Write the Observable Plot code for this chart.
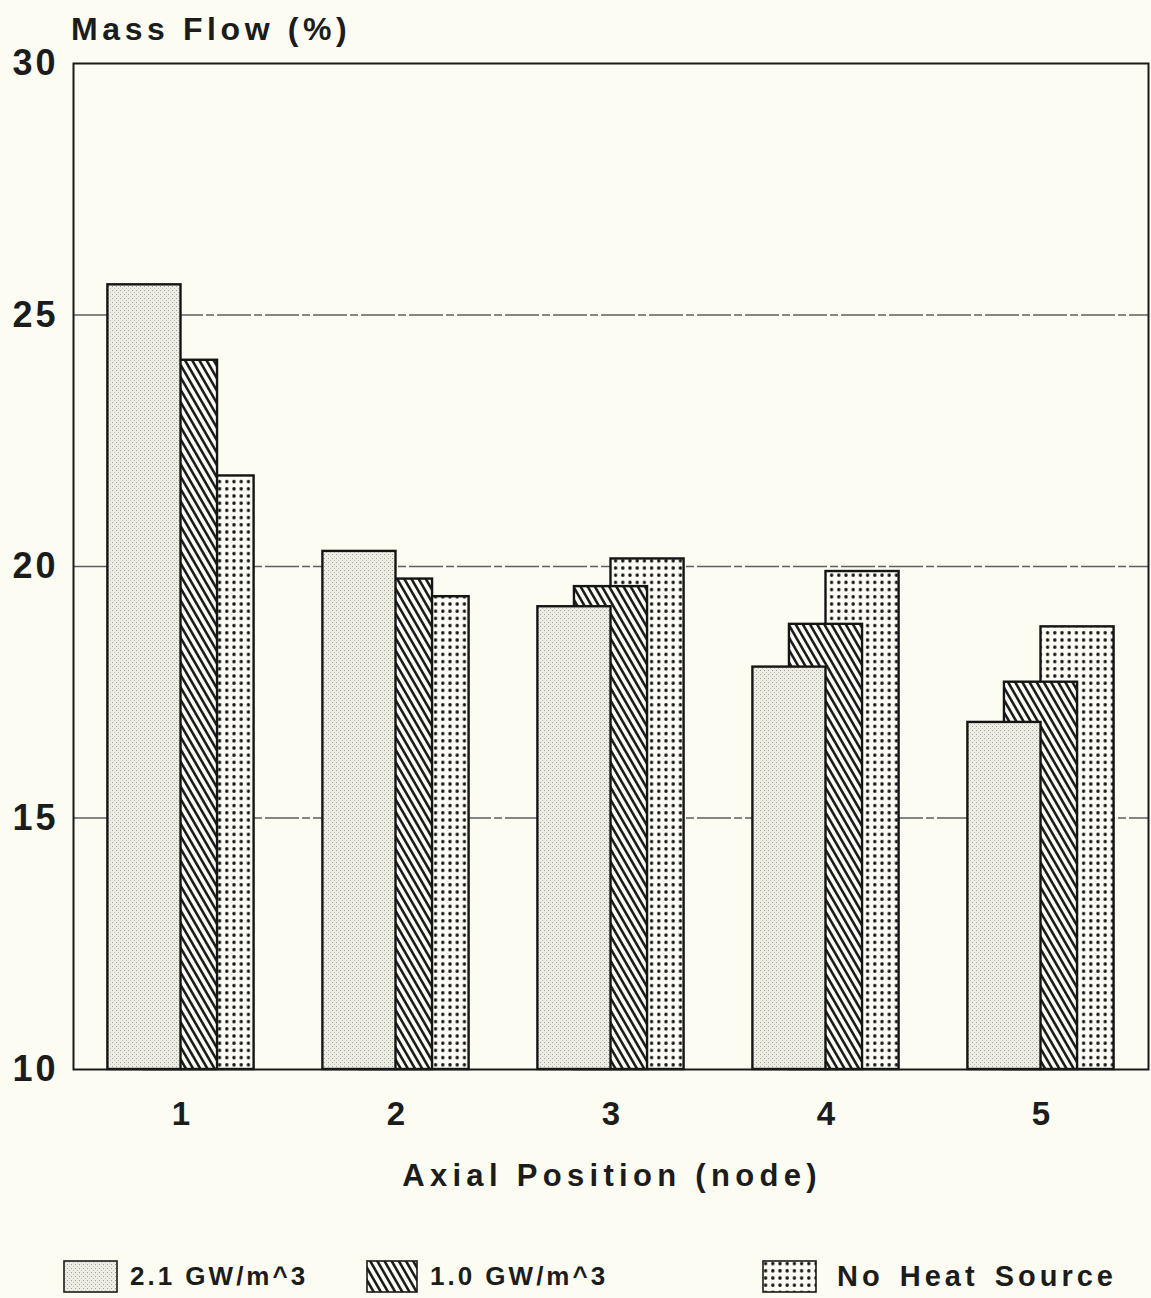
<!DOCTYPE html>
<html>
<head>
<meta charset="utf-8">
<script src="https://cdn.jsdelivr.net/npm/d3@7"></script>
<script src="https://cdn.jsdelivr.net/npm/@observablehq/plot@0.6"></script>
<style>
  html, body { margin: 0; padding: 0; background: #fcfcf3; }
  body { width: 1151px; height: 1298px; overflow: hidden; font-family: "Liberation Sans", Arial, Helvetica, sans-serif; color: #1c1c1c; }
  #title { height: 46px; position: relative; }
  #title span { position: absolute; left: 71px; top: 11px; font-size: 32px; font-weight: bold; letter-spacing: 4.6px; white-space: nowrap; }
  #chart svg { display: block; overflow: visible; }
  #xlabel { height: 70px; position: relative; }
  #xlabel span { position: absolute; left: 0; right: 0; padding-left: 76px; padding-right: 3px; text-align: center; top: 18px; font-size: 31px; letter-spacing: 5.3px; font-weight: bold; white-space: nowrap; }
  #legend { position: relative; height: 88px; }
  .item { position: absolute; top: 50px; display: flex; align-items: center; white-space: nowrap; }
  .item svg { display: block; margin-right: 12px; }
  .item span { font-size: 26px; font-weight: bold; letter-spacing: 3px; }
  .item.wide svg { margin-right: 20px; }
  .item.wide span { font-size: 29px; letter-spacing: 4px; word-spacing: 4px; }
</style>
</head>
<body>
<div id="title"><span>Mass Flow (%)</span></div>
<div id="chart"></div>
<div id="xlabel"><span>Axial Position (node)</span></div>
<div id="legend"></div>
<script>
// ---- data ----
const nodes = [1, 2, 3, 4, 5];
const seriesNames = ["2.1 GW/m^3", "1.0 GW/m^3", "No Heat Source"];
const gw21 = [25.6, 20.3, 19.2, 18.0, 16.9];
const gw10 = [24.1, 19.75, 19.6, 18.85, 17.7];
const noHeat = [21.8, 19.4, 20.15, 19.9, 18.8];
const yTicks = [10, 15, 20, 25, 30];
const gridValues = [15, 20, 25];

const seriesValues = [gw21, gw10, noHeat];
const patternIds = ["pStipple", "pHatch", "pDots"];
const half = 0.17; // half bar width in node units; bars overlap by half

function rowsFor(k) {
  return nodes.map((n, i) => ({
    node: n,
    series: seriesNames[k],
    value: seriesValues[k][i],
    x1: n + (k - 1) * half - half,
    x2: n + (k - 1) * half + half,
    base: 10
  }));
}

const barMarks = [2, 1, 0].map(k =>
  Plot.rect(rowsFor(k), {
    x1: "x1", x2: "x2", y1: "base", y2: "value",
    fill: `url(#${patternIds[k]})`,
    stroke: "#141414", strokeWidth: 2.4
  })
);

const chart = Plot.plot({
  width: 1151,
  height: 1094,
  marginTop: 17,
  marginLeft: 73,
  marginRight: 3,
  marginBottom: 71,
  style: { background: "transparent", fontFamily: "'Liberation Sans', Arial, sans-serif", color: "#1c1c1c", overflow: "visible" },
  x: { domain: [0.5, 5.5] },
  y: { domain: [10, 30] },
  marks: [
    Plot.ruleY(gridValues, { stroke: "#5e5e5e", strokeWidth: 1.3, strokeDasharray: "34,3,8,3" }),
    ...barMarks,
    Plot.frame({ stroke: "#1a1a1a", strokeWidth: 2 }),
    Plot.axisY(yTicks, { tickSize: 0, tickPadding: 15, fontSize: 36, fontWeight: "bold", tickFormat: d => String(d), label: null }),
    Plot.axisX(nodes, { tickSize: 0, tickPadding: 32, fontSize: 33, fontWeight: "bold", tickFormat: d => String(d), label: null })
  ]
});
document.getElementById("chart").appendChild(chart);
d3.select(chart).selectAll("[aria-label='y-axis tick label'] text").attr("letter-spacing", 3);

// ---- fill patterns ----
const defs = d3.select(chart).insert("defs", ":first-child");
// light stipple
const p1 = defs.append("pattern").attr("id", "pStipple").attr("patternUnits", "userSpaceOnUse").attr("width", 4).attr("height", 4);
p1.append("rect").attr("width", 4).attr("height", 4).attr("fill", "#ededE4");
p1.append("rect").attr("x", 0).attr("y", 0).attr("width", 1).attr("height", 1).attr("fill", "#a0a098");
p1.append("rect").attr("x", 2).attr("y", 2).attr("width", 1).attr("height", 1).attr("fill", "#c0c0b8");
// diagonal hatch
const p2 = defs.append("pattern").attr("id", "pHatch").attr("patternUnits", "userSpaceOnUse").attr("width", 6.2).attr("height", 6.2).attr("patternTransform", "rotate(-30)");
p2.append("rect").attr("width", 6.2).attr("height", 6.2).attr("fill", "#fdfdf6");
p2.append("line").attr("x1", 3.1).attr("y1", -1).attr("x2", 3.1).attr("y2", 7.2).attr("stroke", "#141414").attr("stroke-width", 2.5);
// dot grid
const p3 = defs.append("pattern").attr("id", "pDots").attr("patternUnits", "userSpaceOnUse").attr("width", 7.2).attr("height", 7.2);
p3.append("rect").attr("width", 7.2).attr("height", 7.2).attr("fill", "#fdfdf6");
p3.append("circle").attr("cx", 3.6).attr("cy", 3.6).attr("r", 1.7).attr("fill", "#141414");

// ---- legend ----
const legendLayout = [
  { left: 63, w: 55, cls: "item" },
  { left: 366, w: 52, cls: "item" },
  { left: 762, w: 55, cls: "item wide" }
];
const legend = d3.select("#legend");
seriesNames.forEach((name, k) => {
  const item = legend.append("div").attr("class", legendLayout[k].cls).style("left", legendLayout[k].left + "px");
  const s = item.append("svg").attr("width", legendLayout[k].w).attr("height", 33);
  s.append("rect").attr("x", 1).attr("y", 1).attr("width", legendLayout[k].w - 2).attr("height", 31)
    .attr("fill", `url(#${patternIds[k]})`).attr("stroke", "#1a1a1a").attr("stroke-width", 1.6);
  item.append("span").text(name);
});
</script>
</body>
</html>
